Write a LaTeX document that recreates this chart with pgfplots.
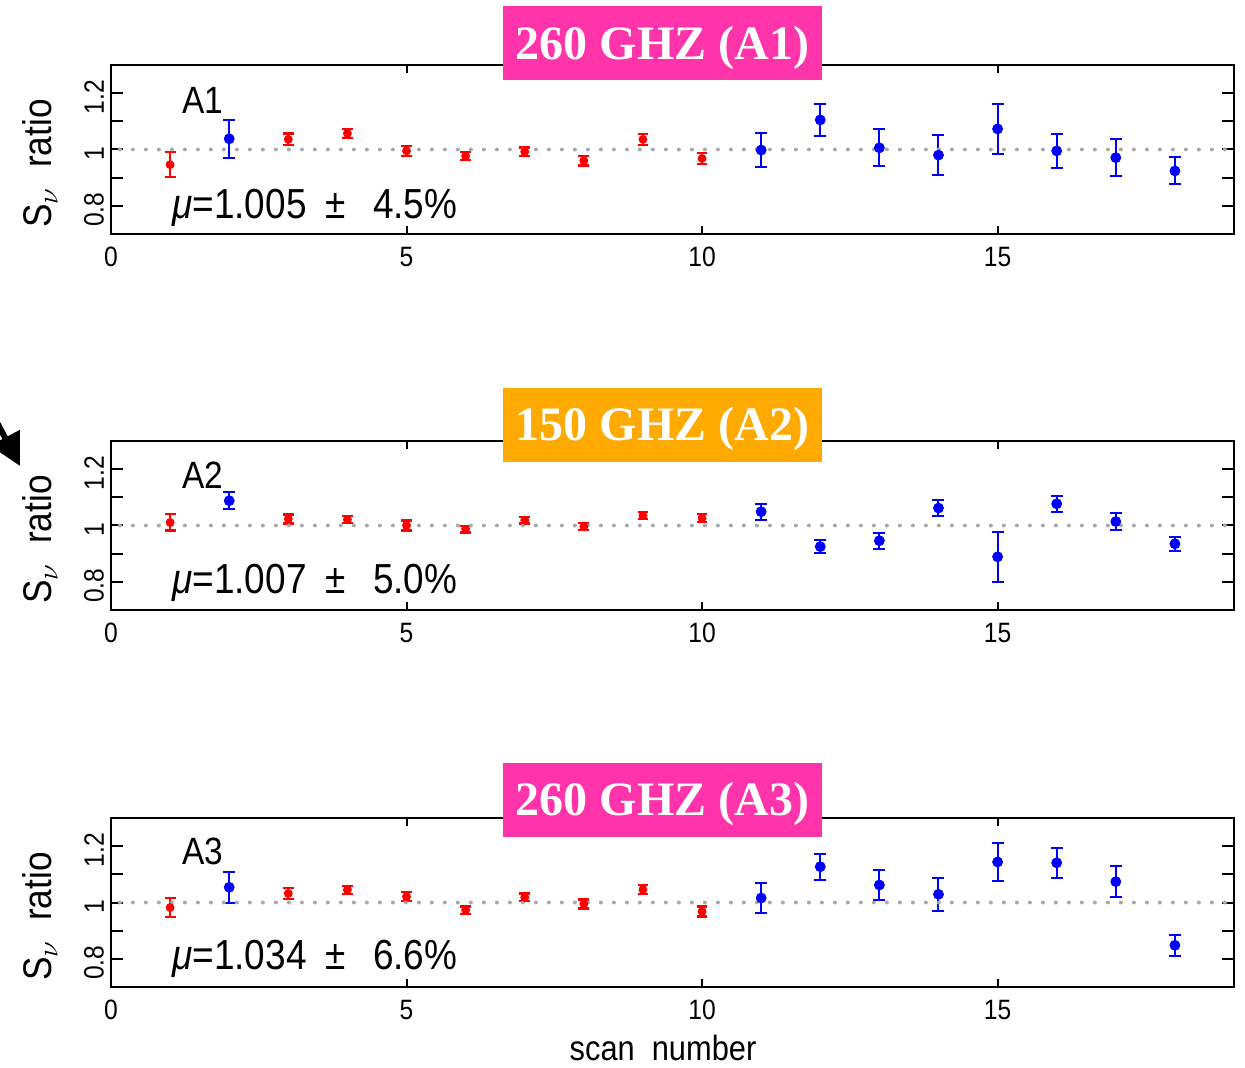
\documentclass[border=0pt]{standalone}
\usepackage{fontspec}
\usepackage{pgfplots}
\pgfplotsset{compat=1.18}
\usepackage{pgfplotstable}
\usetikzlibrary{arrows.meta}
\setmainfont{Liberation Sans}
\newfontfamily\pg[FakeStretch=0.88]{Liberation Sans}
\newfontfamily\tms{Liberation Serif}
\definecolor{hotpink}{RGB}{255,51,170}
\definecolor{amber}{RGB}{255,170,0}
\definecolor{dotgray}{RGB}{168,168,168}

% scan, flux ratio, error
\pgfplotstableread{
x  y     e
1  0.946 0.044
3  1.036 0.021
4  1.057 0.017
5  0.995 0.017
6  0.977 0.013
7  0.992 0.015
8  0.960 0.017
9  1.036 0.019
10 0.968 0.020
}\aonered
\pgfplotstableread{
x  y     e
2  1.038 0.068
11 0.998 0.061
12 1.105 0.056
13 1.006 0.065
14 0.980 0.070
15 1.073 0.090
16 0.995 0.059
17 0.971 0.066
18 0.924 0.048
}\aoneblue
\pgfplotstableread{
x  y     e
1  1.011 0.029
3  1.023 0.016
4  1.021 0.013
5  1.000 0.018
6  0.987 0.012
7  1.019 0.012
8  0.996 0.012
9  1.036 0.013
10 1.026 0.014
}\atwored
\pgfplotstableread{
x  y     e
2  1.088 0.031
11 1.049 0.029
12 0.925 0.024
13 0.946 0.029
14 1.062 0.030
15 0.889 0.089
16 1.077 0.029
17 1.014 0.031
18 0.935 0.024
}\atwoblue
\pgfplotstableread{
x  y     e
1  0.982 0.033
3  1.032 0.019
4  1.045 0.015
5  1.021 0.016
6  0.973 0.013
7  1.018 0.014
8  0.995 0.016
9  1.046 0.017
10 0.968 0.018
}\athreered
\pgfplotstableread{
x  y     e
2  1.054 0.054
11 1.016 0.055
12 1.127 0.046
13 1.062 0.054
14 1.029 0.058
15 1.144 0.068
16 1.141 0.054
17 1.074 0.056
18 0.848 0.038
}\athreeblue

\pgfplotsset{
  panel/.style={
    scale only axis, width=561.5pt, height=84.5pt,
    xmin=0, xmax=19, ymin=0.7, ymax=1.3,
    axis line style={line width=1.2pt},
    tick style={line width=1pt, black},
    tick align=inside,
    major tick length=6pt, minor tick length=2.5pt,
    xtick=\empty, minor xtick={1,...,18},
    extra x ticks={0,5,10,15}, extra x tick labels={0,5,10,15},
    extra x tick style={major tick length=4pt},
    ytick={0.8,0.9,1,1.1,1.2}, yticklabels={0.8,,1,,1.2},
    tick label style={font=\pg\fontsize{14}{16}\selectfont},
    xticklabel style={yshift=-3pt},
    yticklabel style={rotate=90, anchor=south, xshift=-2pt},
    ylabel={S$_\nu$\ \ ratio},
    ylabel style={at={(axis description cs:-0.0632,0.417)}, anchor=center,
      font=\pg\fontsize{20}{22}\selectfont},
    clip=false,
  },
  redpts/.style={only marks, red, mark=*, mark size=2pt,
    error bars/.cd, y dir=both, y explicit,
    error bar style={line width=1pt, red},
    error mark options={rotate=90, mark size=2.7pt, line width=1.1pt, red}},
  bluepts/.style={only marks, blue, mark=*, mark size=2.5pt,
    error bars/.cd, y dir=both, y explicit,
    error bar style={line width=1pt, blue},
    error mark options={rotate=90, mark size=3pt, line width=1pt, blue}},
  unity/.style={dotgray, line width=2pt, dash pattern=on 0pt off 6.5pt, line cap=round},
}

\newcommand{\lbl}{\pg\fontsize{19}{21}\selectfont}
\newcommand{\mulbl}{\pg\fontsize{21}{23}\selectfont}
\newcommand{\pmtext}[2]{{\itshape μ}=#1\hspace{0.45em}±\hspace{0.65em}#2\%}

\begin{document}
\begin{tikzpicture}
\useasboundingbox (0,0) rectangle (622.5pt,-534pt);

% A1
\begin{axis}[panel, at={(55.5pt,-117pt)}, anchor=south west]
  \addplot[redpts] table[x=x, y=y, y error=e] {\aonered};
  \addplot[bluepts] table[x=x, y=y, y error=e] {\aoneblue};
  \addplot[unity] coordinates {(0.15,1) (19,1)};
  \node[font=\lbl] at (axis cs:1.55,1.175) {A1};
  \node[font=\mulbl, anchor=west, inner sep=0pt] at (axis cs:1.03,0.793)
    {\pmtext{1.005}{4.5}};
\end{axis}

% A2
\begin{axis}[panel, at={(55.5pt,-305pt)}, anchor=south west]
  \addplot[redpts] table[x=x, y=y, y error=e] {\atwored};
  \addplot[bluepts] table[x=x, y=y, y error=e] {\atwoblue};
  \addplot[unity] coordinates {(0.15,1) (19,1)};
  \node[font=\lbl] at (axis cs:1.55,1.18) {A2};
  \node[font=\mulbl, anchor=west, inner sep=0pt] at (axis cs:1.03,0.797)
    {\pmtext{1.007}{5.0}};
\end{axis}

% A3
\begin{axis}[panel, at={(55.5pt,-493.5pt)}, anchor=south west]
  \addplot[redpts] table[x=x, y=y, y error=e] {\athreered};
  \addplot[bluepts] table[x=x, y=y, y error=e] {\athreeblue};
  \addplot[unity] coordinates {(0.15,1) (19,1)};
  \node[font=\lbl] at (axis cs:1.55,1.18) {A3};
  \node[font=\mulbl, anchor=west, inner sep=0pt] at (axis cs:1.03,0.8)
    {\pmtext{1.034}{6.6}};
\end{axis}

\node[font=\pg\fontsize{17.5}{19}\selectfont, inner sep=1pt] at (331.5pt,-524pt) {scan\ \ number};

% band labels: filled box, then the text slightly lowered
\tikzset{
  band/.style={minimum width=159.5pt, minimum height=37pt, inner sep=0pt},
  bandtext/.style={text=white, font=\tms\bfseries\fontsize{24}{26}\selectfont, inner sep=0pt, yshift=-2pt}}
\node[band, fill=hotpink] at (331.25pt,-21.75pt) {};
\node[bandtext] at (331.25pt,-21.75pt) {260 GHZ (A1)};
\node[band, fill=amber] at (331.25pt,-212.5pt) {};
\node[bandtext] at (331.25pt,-212.5pt) {150 GHZ (A2)};
\node[band, fill=hotpink] at (331.25pt,-399.75pt) {};
\node[bandtext] at (331.25pt,-399.75pt) {260 GHZ (A3)};

\draw[line width=3pt, -{Triangle[length=16pt,width=16pt]}] (-8pt,-199pt) -- (10pt,-233pt);
\end{tikzpicture}
\end{document}
